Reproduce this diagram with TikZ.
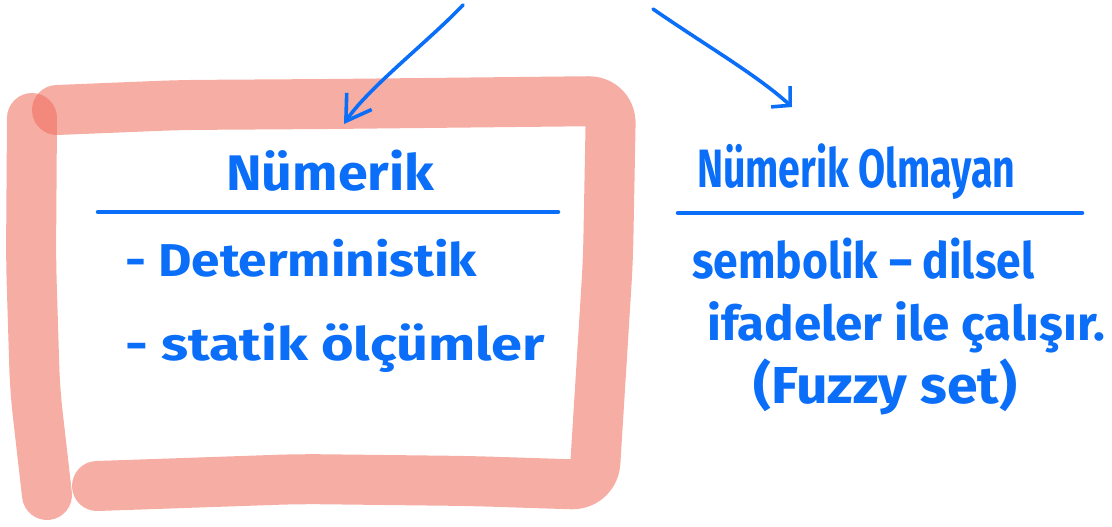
\documentclass[tikz,border=0pt]{standalone}
\usepackage{fontspec}
\setmainfont{Fira Sans}
\usetikzlibrary{arrows.meta}
\definecolor{ink}{HTML}{0A6EF8}
\definecolor{hl}{RGB}{240,110,95}
\begin{document}
\begin{tikzpicture}[x=1pt,y=-1pt,
  hlstroke/.style={draw=hl, draw opacity=0.57, line width=50pt, line cap=round, line join=round, rounded corners=22pt},
  rule/.style={draw=ink, line width=4.5pt, line cap=round},
  arr/.style={draw=ink, line width=3.6pt, line cap=round},
  txt/.style={text=ink, inner sep=0pt, anchor=base west}]
\useasboundingbox (0,0) rectangle (1112,527);
% highlighter frame
\draw[hlstroke] (57,110) -- (180,105) -- (330,104) -- (611,101) -- (608,260) -- (594,485) -- (470,481) -- (300,479) -- (97,486);
\draw[hlstroke] (32,118) -- (31,260) -- (35,390) -- (47,495);
% left column
\node[txt, font=\bfseries\fontsize{50}{56}\selectfont] (num) at (226,190) {\resizebox{208pt}{\height}{Nümerik}};
\coordinate (rl1) at (98,212);
\coordinate (rr1) at (558,212);
\draw[rule] (rl1) -- (rr1);
\node[txt, font=\bfseries\fontsize{46}{52}\selectfont] (det) at (125,276) {\resizebox{352pt}{\height}{- Deterministik}};
\node[txt, font=\bfseries\fontsize{46}{52}\selectfont] (sta) at (125,360) {\resizebox{420pt}{\height}{- statik ölçümler}};
% right column
\node[txt, font=\bfseries\fontsize{54}{60}\selectfont] (nonnum) at (697,187) {\resizebox{318pt}{\height}{Nümerik Olmayan}};
\coordinate (rl2) at (678,213);
\coordinate (rr2) at (1082,213);
\draw[rule] (rl2) -- (rr2);
\node[txt, font=\bfseries\fontsize{50}{56}\selectfont] (semb) at (692,278) {\resizebox{342pt}{\height}{sembolik – dilsel}};
\node[txt, font=\bfseries\fontsize{48}{54}\selectfont] (ifa) at (707,340) {\resizebox{398pt}{\height}{ifadeler ile çalışır.}};
\node[txt, font=\bfseries\fontsize{52}{58}\selectfont] (fuz) at (753,403) {\resizebox{264pt}{\height}{(Fuzzy set)}};
% arrows
\coordinate (a1s) at (463,5);
\coordinate (a1e) at (344,124);
\coordinate (a2s) at (653,9);
\coordinate (a2e) at (792,107);
\draw[arr, -{Straight Barb[length=24pt,width=30pt,line width=3.6pt]}] (a1s) .. controls (430,40) and (368,88) .. (a1e);
\draw[arr, -{Straight Barb[length=13pt,width=28pt,line width=3.6pt]}] (a2s) .. controls (705,45) and (757,75) .. (a2e);
\end{tikzpicture}
\end{document}
